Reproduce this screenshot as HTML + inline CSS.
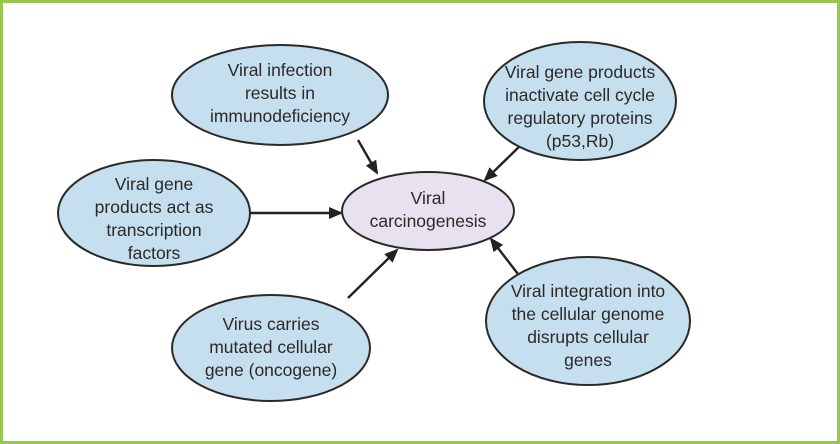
<!DOCTYPE html>
<html><head><style>
html,body{margin:0;padding:0;background:#fff}
svg{display:block}
text{font-family:"Liberation Sans",Arial,sans-serif;font-size:17.5px;fill:#2a2a2a;text-anchor:middle}
</style></head><body>
<svg width="840" height="444" viewBox="0 0 840 444">
<defs><marker id="a" markerWidth="14" markerHeight="12" refX="12" refY="6" orient="auto" markerUnits="userSpaceOnUse"><path d="M0,0 L14,6 L0,12 Z" fill="#222"/></marker></defs>
<rect x="1.5" y="1.5" width="837" height="441" fill="#fff" stroke="#96c84e" stroke-width="3"/>
<g stroke="#222" stroke-width="2.4" marker-end="url(#a)">
<line x1="358" y1="140" x2="377" y2="173"/>
<line x1="522" y1="144" x2="485" y2="180"/>
<line x1="250" y1="213" x2="341" y2="213"/>
<line x1="348" y1="298" x2="397" y2="250"/>
<line x1="518" y1="274" x2="491" y2="239"/>
</g>
<g stroke="#2a2a2a" stroke-width="2" fill="#c6dfee">
<ellipse cx="280" cy="95" rx="108" ry="50"/>
<ellipse cx="580" cy="101" rx="96" ry="59"/>
<ellipse cx="154" cy="213" rx="96" ry="53"/>
<ellipse cx="271" cy="348" rx="99" ry="53"/>
<ellipse cx="588" cy="321" rx="102" ry="64"/>
<ellipse cx="428" cy="211" rx="86" ry="39" fill="#e8e1ef"/>
</g>
<text x="280" y="76">Viral infection</text>
<text x="280" y="99">results in</text>
<text x="280" y="122">immunodeficiency</text>
<text x="580" y="78">Viral gene products</text>
<text x="580" y="101">inactivate cell cycle</text>
<text x="580" y="124">regulatory proteins</text>
<text x="580" y="147">(p53,Rb)</text>
<text x="154" y="190">Viral gene</text>
<text x="154" y="213">products act as</text>
<text x="154" y="236">transcription</text>
<text x="154" y="259">factors</text>
<text x="428" y="204">Viral</text>
<text x="428" y="227">carcinogenesis</text>
<text x="271" y="330">Virus carries</text>
<text x="271" y="353">mutated cellular</text>
<text x="271" y="376">gene (oncogene)</text>
<text x="588" y="297">Viral integration into</text>
<text x="588" y="320">the cellular genome</text>
<text x="588" y="343">disrupts cellular</text>
<text x="588" y="366">genes</text>
</svg>
</body></html>
